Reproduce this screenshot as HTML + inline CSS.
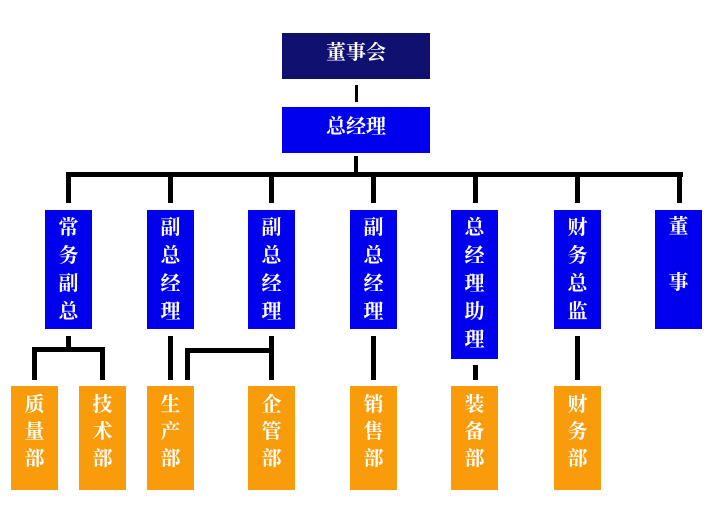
<!DOCTYPE html>
<html><head><meta charset="utf-8"><style>
body{margin:0;width:710px;height:517px;background:#fff;position:relative;overflow:hidden;font-family:"Liberation Serif","Noto Serif CJK SC",serif;}
.b{position:absolute;color:#fff;font-weight:bold;font-size:20px;text-align:center;box-sizing:border-box;}
.v{background:#0000ee;width:47px;top:210px;height:119px;line-height:28px;padding-top:4px;}
.o{background:#f89c0c;width:47px;top:386px;height:104px;line-height:27px;padding-top:6px;}
.l{position:absolute;background:#000;}
</style></head><body>
<div class="b" style="left:282px;top:33px;width:148px;height:46px;background:#101070;line-height:40px">董事会</div>
<div class="l" style="left:355px;top:85px;width:3px;height:17px"></div>
<div class="b" style="left:282px;top:107px;width:148px;height:46px;background:#0000ee;line-height:40px">总经理</div>
<div class="l" style="left:354px;top:156px;width:4px;height:18px"></div>
<div class="l" style="left:66px;top:172px;width:617px;height:5px"></div>
<div class="l" style="left:66px;top:172px;width:5px;height:31px"></div>
<div class="l" style="left:168px;top:172px;width:5px;height:31px"></div>
<div class="l" style="left:269px;top:172px;width:5px;height:31px"></div>
<div class="l" style="left:371px;top:172px;width:5px;height:31px"></div>
<div class="l" style="left:473px;top:172px;width:5px;height:31px"></div>
<div class="l" style="left:575px;top:172px;width:5px;height:31px"></div>
<div class="l" style="left:677px;top:172px;width:5px;height:31px"></div>

<div class="b v" style="left:45px">常<br>务<br>副<br>总</div>
<div class="b v" style="left:147px">副<br>总<br>经<br>理</div>
<div class="b v" style="left:248px">副<br>总<br>经<br>理</div>
<div class="b v" style="left:350px">副<br>总<br>经<br>理</div>
<div class="b v" style="left:451px;height:149px">总<br>经<br>理<br>助<br>理</div>
<div class="b v" style="left:554px">财<br>务<br>总<br>监</div>
<div class="b v" style="left:655px;padding-top:3px">董<br><br>事</div>

<div class="l" style="left:66px;top:336px;width:5px;height:13px"></div>
<div class="l" style="left:32px;top:347px;width:73px;height:5px"></div>
<div class="l" style="left:32px;top:347px;width:5px;height:33px"></div>
<div class="l" style="left:100px;top:347px;width:5px;height:33px"></div>
<div class="l" style="left:168px;top:336px;width:5px;height:44px"></div>
<div class="l" style="left:185px;top:348px;width:89px;height:5px"></div>
<div class="l" style="left:185px;top:348px;width:5px;height:32px"></div>
<div class="l" style="left:269px;top:336px;width:5px;height:44px"></div>
<div class="l" style="left:371px;top:336px;width:5px;height:44px"></div>
<div class="l" style="left:473px;top:365px;width:5px;height:15px"></div>
<div class="l" style="left:575px;top:336px;width:5px;height:44px"></div>

<div class="b o" style="left:11px">质<br>量<br>部</div>
<div class="b o" style="left:79px">技<br>术<br>部</div>
<div class="b o" style="left:147px">生<br>产<br>部</div>
<div class="b o" style="left:248px">企<br>管<br>部</div>
<div class="b o" style="left:350px">销<br>售<br>部</div>
<div class="b o" style="left:451px">装<br>备<br>部</div>
<div class="b o" style="left:554px">财<br>务<br>部</div>
</body></html>
